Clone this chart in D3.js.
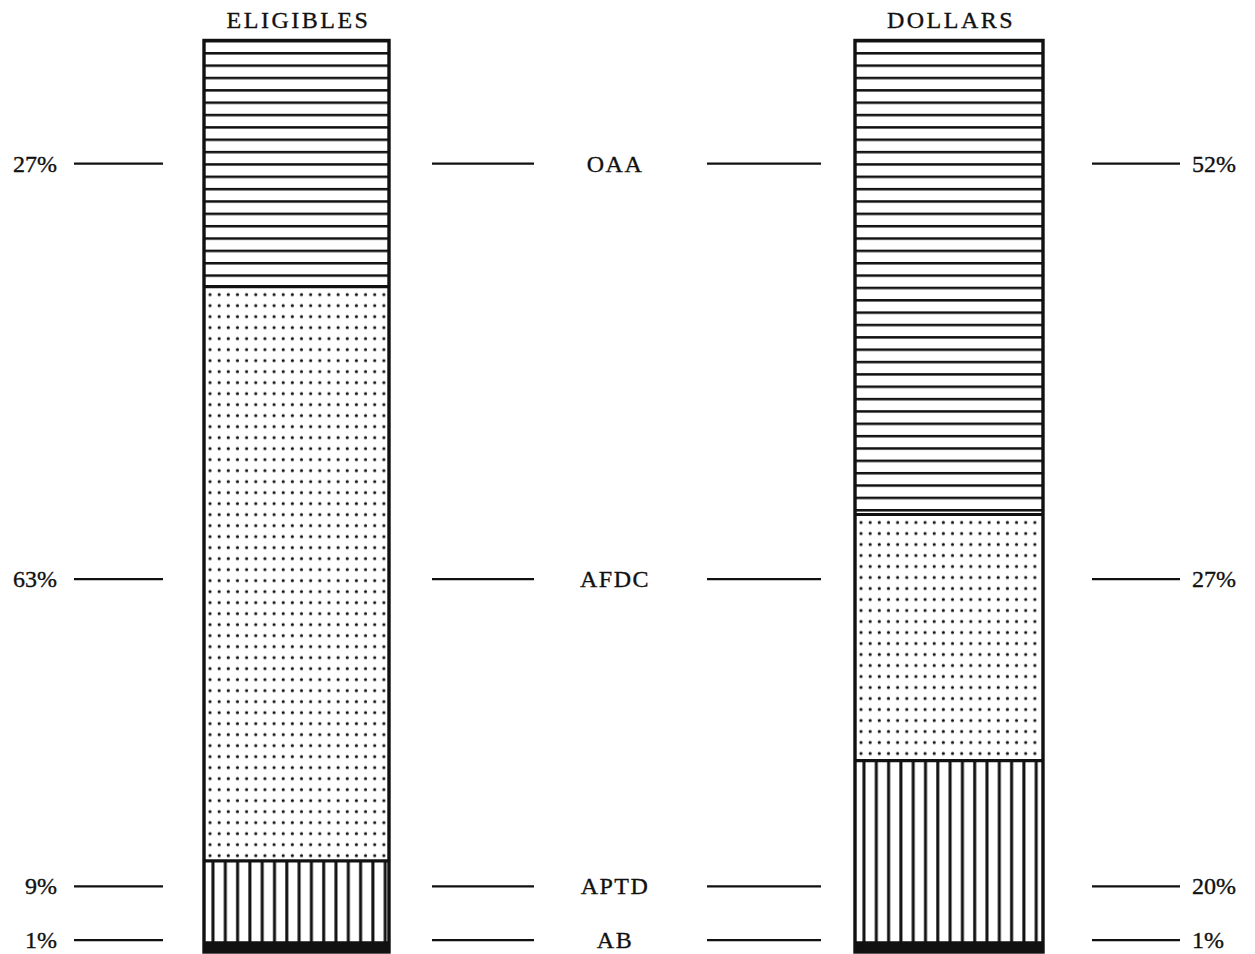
<!DOCTYPE html>
<html>
<head>
<meta charset="utf-8">
<script src="https://cdn.jsdelivr.net/npm/d3@7"></script>
<style>
  html, body { margin: 0; padding: 0; background: #fff; }
  text { font-family: "Liberation Serif", "DejaVu Serif", serif; fill: #111; stroke: #111; stroke-width: 0.35px; }
</style>
</head>
<body>
<svg id="chart" width="1255" height="954"></svg>
<script>
// ---- data ----
const categories = ["OAA", "AFDC", "APTD", "AB"];
const barNames = ["ELIGIBLES", "DOLLARS"];
const eligibles = [27, 63, 9, 1];
const dollars = [52, 27, 20, 1];
const patterns = ["hlines", "dots", "vlines", "solid"];

// ---- layout (not data) ----
const svg = d3.select("#chart");
const y = d3.scaleLinear().domain([0, 100]).range([40.5, 952]);
const x = d3.scaleOrdinal().domain(barNames).range([204, 855]);
const barW = { ELIGIBLES: 185, DOLLARS: 188 };
const calloutPct = [13.5, 59.1, 92.8, 98.7]; // vertical anchor of each callout, in stack %

const series = [
  { name: "ELIGIBLES", values: eligibles },
  { name: "DOLLARS", values: dollars }
];

const defs = svg.append("defs");

series.forEach((s, si) => {
  const x0 = x(s.name), w = barW[s.name];
  let cum = 0;
  const segs = s.values.map((v, i) => {
    const seg = { cat: categories[i], pat: patterns[i], y0: y(cum), y1: y(cum + v), v };
    cum += v;
    return seg;
  });
  const g = svg.append("g");
  segs.forEach((seg, i) => {
    const id = `p-${si}-${i}`;
    let fill = "#fff";
    if (seg.pat === "hlines") {
      const p = defs.append("pattern").attr("id", id).attr("patternUnits", "userSpaceOnUse")
        .attr("x", 0).attr("y", seg.y0 - 0.8).attr("width", 10).attr("height", 12.35);
      p.append("rect").attr("width", 10).attr("height", 12.35).attr("fill", "#fff");
      p.append("rect").attr("y", 0).attr("width", 10).attr("height", 2.5).attr("fill", "#111");
      fill = `url(#${id})`;
    } else if (seg.pat === "dots") {
      const p = defs.append("pattern").attr("id", id).attr("patternUnits", "userSpaceOnUse")
        .attr("x", x0 + 2).attr("y", seg.y0 + 4).attr("width", 9.15).attr("height", 11);
      p.append("rect").attr("width", 9.15).attr("height", 11).attr("fill", "#fff");
      p.append("circle").attr("cx", 4).attr("cy", 4).attr("r", 1.6).attr("fill", "#111");
      fill = `url(#${id})`;
    } else if (seg.pat === "vlines") {
      const p = defs.append("pattern").attr("id", id).attr("patternUnits", "userSpaceOnUse")
        .attr("x", x0 + 2.5).attr("y", 0).attr("width", 12.3).attr("height", 10);
      p.append("rect").attr("width", 12.3).attr("height", 10).attr("fill", "#fff");
      p.append("rect").attr("x", 5).attr("width", 3).attr("height", 10).attr("fill", "#111");
      fill = `url(#${id})`;
    } else if (seg.pat === "solid") {
      fill = "#111";
    }
    g.append("rect")
      .attr("x", x0).attr("y", seg.y0)
      .attr("width", w).attr("height", seg.y1 - seg.y0)
      .attr("fill", fill);
    if (i > 0) {
      g.append("line")
        .attr("x1", x0).attr("x2", x0 + w)
        .attr("y1", seg.y0).attr("y2", seg.y0)
        .attr("stroke", "#111").attr("stroke-width", 3.2);
    }
  });
  // outline
  g.append("rect")
    .attr("x", x0).attr("y", y(0))
    .attr("width", w).attr("height", y(100) - y(0))
    .attr("fill", "none").attr("stroke", "#111").attr("stroke-width", 3.4);
  // title
  svg.append("text")
    .attr("x", x0 + w / 2 + 2).attr("y", 28)
    .attr("text-anchor", "middle")
    .attr("font-size", 24).attr("letter-spacing", 2.5)
    .text(s.name);
});

// ---- callouts ----
const lineStyle = sel => sel.attr("stroke", "#111").attr("stroke-width", 2.2);
categories.forEach((c, i) => {
  const ly = y(calloutPct[i]);
  // left: eligibles %
  svg.append("text").attr("x", 57).attr("y", ly + 8).attr("text-anchor", "end")
    .attr("font-size", 24).text(eligibles[i] + "%");
  svg.append("line").attr("x1", 74).attr("x2", 163).attr("y1", ly).attr("y2", ly).call(lineStyle);
  // center
  svg.append("line").attr("x1", 432).attr("x2", 534).attr("y1", ly).attr("y2", ly).call(lineStyle);
  svg.append("text").attr("x", 615).attr("y", ly + 8).attr("text-anchor", "middle")
    .attr("font-size", 24).attr("letter-spacing", 1.5).text(c);
  svg.append("line").attr("x1", 707).attr("x2", 821).attr("y1", ly).attr("y2", ly).call(lineStyle);
  // right: dollars %
  svg.append("line").attr("x1", 1092).attr("x2", 1180).attr("y1", ly).attr("y2", ly).call(lineStyle);
  svg.append("text").attr("x", 1192).attr("y", ly + 8).attr("text-anchor", "start")
    .attr("font-size", 24).text(dollars[i] + "%");
});
</script>
</body>
</html>
